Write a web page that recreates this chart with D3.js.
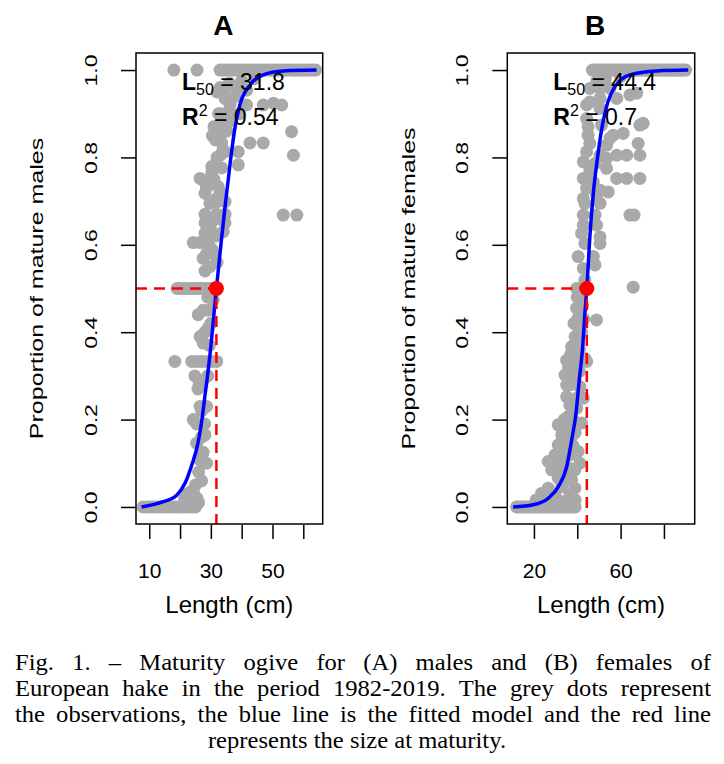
<!DOCTYPE html>
<html>
<head>
<meta charset="utf-8">
<script src="https://cdn.jsdelivr.net/npm/d3@7"></script>
<style>
body { margin: 0; background: #fff; }
svg text { font-family: "Liberation Sans", Arial, sans-serif; white-space: pre; }
</style>
</head>
<body>
<svg id="chart" width="724" height="764"></svg>
<script>
// observations: [length (cm), proportion mature]
var maleObs = [
	[8,0],[9,0],[10,0],[11,0],[12,0],[13,0],[14,0],[15,0],[16,0],[17,0],[18,0],[19,0],[20,0],[21,0],[22,0],[23,0],[24,0],[25,0],
	[21.5,.02],[22.5,.03],[23.5,.035],[24.5,.03],[25.5,.02],[23,.01],[24,.015],[26,.01],
	[25,.05],[27,.06],[26,.08],[27.5,.125],
	[26.5,.107],[28.6,.10],[25.4,.146],[28.1,.165],[27.0,.16],[24.3,.2],[25.4,.19],[28,.19],[27,.22],[26.5,.23],[28.6,.23],[25.8,.27],[26.2,.28],[27.5,.29],[29,.3],[24.8,.30],
	[18.3,.333],[23.8,.333],[25.4,.333],[27.0,.333],[28.5,.333],[30.3,.333],[31.9,.333],
	[29.5,.37],[30,.42],[29,.48],
	[26.5,.39],[27.5,.375],[28.1,.40],[29.2,.41],[25.9,.44],[27.5,.45],[29.2,.45],[30.8,.474],
	[19,.5],[20,.5],[21,.5],[22,.5],[23,.5],[24,.5],[25,.5],[26,.5],[27,.5],[28,.5],[29,.5],[30,.5],[31,.5],
	[28.1,.54],[29.7,.55],[32,.56],[27.5,.569],[28.6,.58],[31,.58],[30.3,.59],[24.3,.605],[26.5,.605],[29.2,.605],
	[31.5,.62],[32.5,.66],[33,.72],[31,.75],[32,.8],[31.5,.84],[32.5,.9],[32,.95],[33,.96],
	[28.1,.627],[30.8,.627],[34.0,.63],[28.1,.65],[30.3,.652],[34.6,.65],[28.1,.67],[31.9,.67],[34.6,.67],[29.7,.695],[31.9,.698],
	[53.5,.668],[57.9,.668],
	[31.9,.706],[34.6,.699],[28.6,.73],[32.4,.733],[27.5,.748],[30.3,.767],[26.5,.752],[28.1,.718],[30.3,.779],
	[33.5,.776],[38.9,.783],[33.0,.805],[34.6,.813],[38.9,.813],[34.0,.817],
	[33.5,.833],[42.7,.833],[47.0,.833],[33.0,.85],[35.1,.86],[31,.87],[30.5,.85],[33.0,.874],[35.6,.88],
	[33.5,.90],[36.8,.90],[39.4,.90],[36.2,.92],[41.6,.92],[47.0,.92],[50.3,.924],[53.0,.92],
	[34.6,.935],[37.8,.939],[34.6,.958],[38.4,.958],[41.6,.954],[36,.97],[40,.975],[44,.98],
	[56.2,.859],[56.8,.805],
	[18,1],[25.5,1],[33,1],[34,1],[35,1],[36,1],[37,1],[38,1],[39,1],[40,1],[41,1],[42,1],[43,1],[44,1],[45,1],[46,1],
	[47,1],[48,1],[49,1],[50,1],[51,1],[52,1],[53,1],[54,1],[55,1],[56,1],[57,1],[58,1],[59,1],[60,1],[61,1],[62,1],[63,1],[64,1]
];

var femaleObs = [
	[12,0],[13,0],[14,0],[15,0],[16,0],[17,0],[18,0],[19,0],[20,0],[21,0],[22,0],[23,0],[24,0],[25,0],
	[26,0],[27,0],[28,0],[29,0],[30,0],[31,0],[32,0],[33,0],[34,0],[35,0],[36,0],[37,0],[38,0],[39,0],
	[23.5,.031],[29.7,.027],[36.6,.027],[21,.016],[27,.012],[33,.012],[39,.016],[26.6,.043],[32.8,.046],[38.9,.043],
	[33,.05],[35,.06],[36,.09],[30,.09],[34,.11],[37,.12],[38,.14],[33,.15],[35,.16],[39,.17],
	[34,.2],[38,.2],[37,.24],[40,.25],[37,.28],[39,.29],[36,.32],[41,.31],[37,.35],[41,.36],
	[39,.39],[42,.4],[38.5,.42],[41,.44],[43,.43],[42.5,.46],[40,.48],
	[31.2,.066],[37.4,.062],[28.2,.085],[33.5,.081],[38.9,.085],[26.6,.104],[31.2,.10],[41.2,.10],
	[29.7,.119],[34.3,.123],[40.4,.127],[31.2,.142],[36.6,.142],[32.8,.165],[37.4,.161],
	[31.2,.188],[35.1,.184],[42.0,.192],[35.8,.207],[36.6,.233],[39.7,.226],[35.1,.252],[42.8,.249],
	[35.1,.279],[41.2,.275],[34.3,.302],[38.9,.306],[35.1,.336],[39.7,.336],[44.3,.333],[38.1,.34],[43.5,.34],
	[37.4,.367],[40.4,.375],[40.4,.413],[40.4,.432],[48.9,.428],[41.2,.474],[39.7,.455],
	[39.7,.5],[42,.5],[65.8,.503],[43.5,.519],[42.8,.546],[48.2,.554],[40.4,.573],[47.4,.573],
	[43.5,.603],[50.5,.603],[42.0,.626],[50.5,.618],[42.8,.645],[48.9,.645],
	[42.8,.668],[48.2,.668],[64.3,.668],[66.2,.668],[43.5,.695],[50.5,.695],
	[42.8,.706],[48.9,.714],[44.3,.729],[50.5,.725],[54.3,.721],[42.8,.752],[47.4,.744],
	[45.8,.771],[53.5,.775],[42.8,.79],[48.2,.786],[44.3,.813],[50.5,.805],[53.5,.798],
	[45.8,.832],[53.5,.828],[45.0,.851],[55.1,.844],[45.0,.87],[51.2,.874],[44.3,.889],
	[44.3,.92],[50.5,.912],[45.8,.927],[50.5,.935],[45.8,.958],[50.5,.958],[55.1,.958],
	[67.4,.947],[68.9,.874],[70.4,.878],[68.1,.832],[68.9,.805],[62.8,.805],[58.2,.805],
	[58.2,.752],[62.8,.752],[68.9,.752],[56.6,.851],[61.2,.855],[58.2,.935],[64.3,.943],
	[49,.975],[53,.98],[60,.985],
	[47,1],[48,1],[49,1],[50,1],[51,1],[52,1],[53,1],[54,1],[55,1],[56,1],[57,1],[58,1],[59,1],[60,1],[61,1],
	[62,1],[63,1],[64,1],[65,1],[66,1],[67,1],[68,1],[69,1],[70,1],[71,1],[72,1],[73,1],[74,1],[75,1],[76,1],
	[77,1],[78,1],[79,1],[80,1],[81,1],[82,1],[83,1],[84,1],[85,1],[86,1],[87,1],[88,1],[89,1],[90,1]
];

// fitted curves
var maleFitLen  = [7.5, 14.5, 18.9, 21.6, 23.8, 25.9, 27.0, 28.1, 29.2, 29.7, 31.8, 33.3, 34.6, 36.2, 37.8, 39.4, 42.7, 47.0, 53.5, 64.3];
var maleFitProp = [0, .012, .027, .054, .096, .149, .195, .256, .317, .348, .5, .603, .687, .783, .867, .92, .966, .989, .998, 1];
var femaleFitLen  = [10.4, 19.7, 26.6, 31.2, 35.1, 37.4, 39.4, 40.9, 42.5, 43.5, 44.4, 45.8, 47.4, 49.2, 51.2, 53.5, 57.4, 64.3, 76.6, 91.2];
var femaleFitProp = [0, .005, .02, .046, .092, .153, .214, .29, .367, .443, .5, .618, .718, .794, .863, .916, .962, .989, .998, 1];

var l50 = [31.8, 44.4];
var r2 = ["0.54", "0.7"];
var panelTitles = ["A", "B"];
var yTitles = ["Proportion of mature males", "Proportion of mature females"];
var yTicks = [0, 0.2, 0.4, 0.6, 0.8, 1.0];
var xTicksA = [10, 20, 30, 40, 50, 60];
var xLabelsA = [10, 30, 50];
var xTicksB = [20, 40, 60, 80];
var xLabelsB = [20, 60];

var captionLines = [
	"Fig. 1. \u2013 Maturity ogive for (A) males and (B) females of",
	"European hake in the period 1982-2019. The grey dots represent",
	"the observations, the blue line is the fitted model and the red line",
	"represents the size at maturity."
];

var svg = d3.select("#chart");
var top_ = 53, bottom = 524;

function drawPanel(p) {
	var x = d3.scaleLinear().domain(p.xDomain).range([p.left, p.right]);
	var y = d3.scaleLinear().domain([-0.039, 1.039]).range([bottom, top_]);
	var g = svg.append("g");

	// grey observations
	g.selectAll("circle.obs")
		.data(p.obs)
		.enter()
		.append("circle")
		.attr("class", "obs")
		.attr("cx", function (d) { return x(d[0]); })
		.attr("cy", function (d) { return y(d[1]); })
		.attr("r", 6.5)
		.style("fill", "#a9a9a9");

	// fitted model
	var line = d3.line()
		.x(function (d, i) { return x(p.fitLen[i]); })
		.y(function (d, i) { return y(p.fitProp[i]); })
		.curve(d3.curveMonotoneX);
	g.append("path")
		.attr("d", line(p.fitLen))
		.style("fill", "none")
		.style("stroke", "#0000ff")
		.style("stroke-width", 3.5);

	// size at maturity
	g.append("path")
		.attr("d", "M" + p.left + "," + y(0.5) + "H" + x(p.l50) + "V" + bottom)
		.style("fill", "none")
		.style("stroke", "#ff0000")
		.style("stroke-width", 2.5)
		.style("stroke-dasharray", "11,7");
	g.append("circle")
		.attr("cx", x(p.l50))
		.attr("cy", y(0.5))
		.attr("r", 7.5)
		.style("fill", "#ff0000");

	g.append("rect")
		.attr("x", p.left).attr("y", top_)
		.attr("width", p.right - p.left).attr("height", bottom - top_)
		.style("fill", "none").style("stroke", "#000").style("stroke-width", 1.5);

	// x axis
	var xa = g.append("g")
		.attr("transform", "translate(0," + (bottom + 1) + ")")
		.call(d3.axisBottom(x).tickValues(p.xTicks).tickSize(14).tickPadding(24)
			.tickFormat(function (d) { return p.xLabels.indexOf(d) >= 0 ? d : ""; }));
	xa.select(".domain").remove();
	xa.selectAll("line").style("stroke-width", 1.5);
	xa.selectAll("text").attr("font-size", 21).attr("font-family", "Liberation Sans, Arial, sans-serif");

	// y axis, labels turned like R does
	var ya = g.append("g")
		.attr("transform", "translate(" + p.left + ",0)")
		.call(d3.axisLeft(y).tickValues(yTicks).tickSize(15).tickFormat(d3.format(".1f")));
	ya.select(".domain").remove();
	ya.selectAll("line").style("stroke-width", 1.5);
	ya.selectAll("text")
		.attr("x", null).attr("dy", null)
		.attr("text-anchor", "middle")
		.attr("font-size", 23).attr("font-family", "Liberation Sans, Arial, sans-serif")
		.attr("transform", "translate(-39.5,0) rotate(-90) scale(1,0.75)");

	g.append("text")
		.attr("transform", "translate(" + (p.left - 92.7) + "," + ((top_ + bottom) / 2) + ") rotate(-90) scale(1,0.75)")
		.attr("text-anchor", "middle")
		.attr("font-size", 25)
		.text(p.yTitle);

	g.append("text")
		.attr("x", (p.left + p.right) / 2).attr("y", 613)
		.attr("text-anchor", "middle")
		.attr("font-size", 24)
		.text("Length (cm)");

	g.append("text")
		.attr("x", (p.left + p.right) / 2 - 6).attr("y", 35)
		.attr("text-anchor", "middle")
		.attr("font-size", 28).attr("font-weight", "bold")
		.text(p.title);

	// annotations
	var t1 = g.append("text").attr("x", p.left + 46).attr("y", 90).attr("font-size", 23);
	t1.append("tspan").attr("font-weight", "bold").text("L");
	t1.append("tspan").attr("font-size", 16).attr("dy", 5).text("50");
	t1.append("tspan").attr("dy", -5).text(" = " + p.l50);
	var t2 = g.append("text").attr("x", p.left + 46).attr("y", 125).attr("font-size", 23);
	t2.append("tspan").attr("font-weight", "bold").text("R");
	t2.append("tspan").attr("font-size", 16).attr("dy", -9).text("2");
	t2.append("tspan").attr("dy", 9).text(" = " + p.r2);
}

drawPanel({ obs: maleObs, fitLen: maleFitLen, fitProp: maleFitProp, l50: l50[0], r2: r2[0],
	title: panelTitles[0], yTitle: yTitles[0], xTicks: xTicksA, xLabels: xLabelsA,
	xDomain: [5.7, 66.3], left: 136, right: 322.7 });
drawPanel({ obs: femaleObs, fitLen: femaleFitLen, fitProp: femaleFitProp, l50: l50[1], r2: r2[1],
	title: panelTitles[1], yTitle: yTitles[1], xTicks: xTicksB, xLabels: xLabelsB,
	xDomain: [7.7, 94.2], left: 507.3, right: 694.7 });

// caption, justified like the journal text; the scan is a bit wide, hence sx
var sx = 1.07;
var cap = svg.append("g").attr("font-size", 23).attr("transform", "scale(" + sx + ",1)");
var capLeft = 15 / sx, capRight = 711 / sx, capBase = [670, 696.5, 722, 748];
captionLines.forEach(function (str, i) {
	if (i == captionLines.length - 1) {
		cap.append("text").attr("x", 357 / sx).attr("y", capBase[i])
			.attr("text-anchor", "middle")
			.style("font-family", "Liberation Serif, Times New Roman, serif")
			.text(str);
		return;
	}
	var words = str.split(" ");
	var nodes = words.map(function (w) {
		return cap.append("text").attr("y", capBase[i])
			.style("font-family", "Liberation Serif, Times New Roman, serif")
			.text(w);
	});
	var widths = nodes.map(function (n) { return n.node().getComputedTextLength(); });
	var gap = (capRight - capLeft - d3.sum(widths)) / (words.length - 1);
	var xpos = capLeft;
	nodes.forEach(function (n, j) {
		n.attr("x", xpos);
		xpos += widths[j] + gap;
	});
});
</script>
</body>
</html>
